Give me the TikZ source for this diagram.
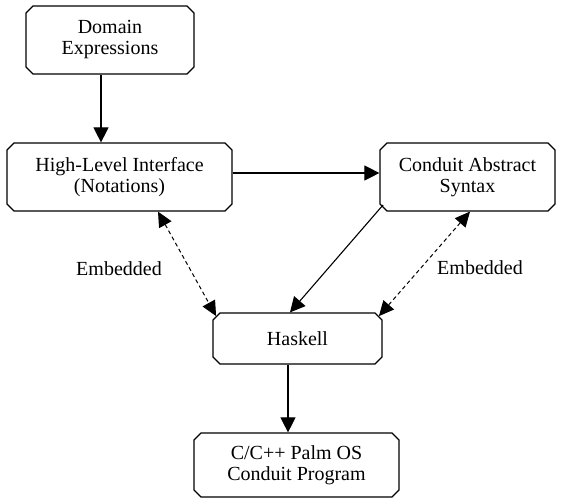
\documentclass[tikz,border=0pt]{standalone}
\usepackage{fontspec}
\setmainfont{Liberation Serif}
\usetikzlibrary{arrows.meta,shapes.misc}
\begin{document}
\begin{tikzpicture}[x=1pt,y=-1pt,
  box/.style={draw,line width=1.2pt,chamfered rectangle,chamfered rectangle xsep=4pt,
    chamfered rectangle angle=45,inner sep=0pt,align=center,
    font=\fontsize{20}{21}\selectfont},
  flow/.style={line width=1.1pt,-{Triangle[length=15pt,width=15pt]}},
  emb/.style={line width=1pt,dashed,dash pattern=on 4pt off 3pt,
    {Triangle[length=15pt,width=14pt]}-{Triangle[length=15pt,width=14pt]}},
  lbl/.style={font=\fontsize{20}{21}\selectfont,inner sep=0pt}]
\useasboundingbox (0,0) rectangle (561,499);
\node[box,minimum width=168pt,minimum height=68pt] (dom) at (110,40) {Domain\\Expressions};
\node[box,minimum width=225pt,minimum height=68pt] (hl) at (119.5,177) {High-Level Interface\\(Notations)};
\node[box,minimum width=175pt,minimum height=68pt] (cas) at (467.5,177) {Conduit Abstract\\Syntax};
\node[box,minimum width=169pt,minimum height=51pt] (hs) at (297.5,338.5) {Haskell};
\node[box,minimum width=205pt,minimum height=64pt] (cc) at (296.5,465) {C/C++ Palm OS\\Conduit Program};
\node[lbl] (e1) at (119,269) {Embedded};
\node[lbl] (e2) at (480,268) {Embedded};
\draw[flow] ([xshift=-9pt]dom.south) -- ([xshift=-9pt]dom.south |- hl.north);
\draw[flow] ([yshift=4pt]hl.east) -- ([yshift=4pt]cas.west);
\draw[flow] ([xshift=-9.5pt]hs.south) -- ([xshift=-9.5pt]hs.south |- cc.north);
\draw[flow] ([yshift=3pt]cas.south west) -- ([xshift=-7.5pt]hs.north);
\draw[emb] ([xshift=38.5pt]hl.south) -- (hs.north west);
\draw[emb] ([xshift=2.5pt]cas.south) -- (hs.north east);
\end{tikzpicture}
\end{document}
